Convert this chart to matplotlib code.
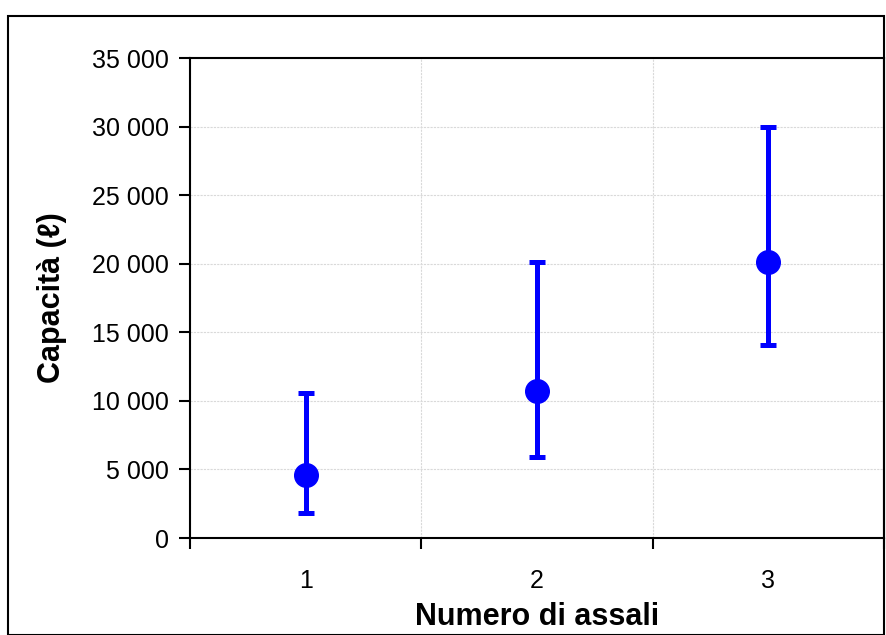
import matplotlib
matplotlib.use("Agg")
import matplotlib.pyplot as plt
from matplotlib.patches import Rectangle
from matplotlib.ticker import FuncFormatter, FixedLocator

plt.rcParams['font.family'] = ['Liberation Sans', 'DejaVu Sans']

categories = [1, 2, 3]
values = [4600, 10700, 20100]
lower = [1800, 5900, 14100]
upper = [10600, 20100, 30000]
x_labels = ["1", "2", "3"]

W, H = 886, 635
fig = plt.figure(figsize=(W/100, H/100), dpi=100)

# outer chart frame
fig.patches.append(Rectangle((8/W, 0), (884-8)/W, 1 - 16/H, transform=fig.transFigure,
                             fill=False, edgecolor='black', linewidth=1.5))

ax = fig.add_axes([190/W, 1 - 538/H, (884-190)/W, (538-58)/H])

yerr = [[v - l for v, l in zip(values, lower)], [u - v for v, u in zip(values, upper)]]
ax.errorbar(categories, values, yerr=yerr, fmt='o', color='#0000FF', ecolor='#0000FF',
            markersize=17, elinewidth=3.6, capsize=5.5, capthick=3.6, zorder=3)

ax.set_xlim(0.5, 3.5)
ax.set_ylim(0, 35000)
ax.set_yticks(range(0, 35001, 5000))
ax.yaxis.set_major_formatter(FuncFormatter(lambda v, p: f"{int(v):,}".replace(",", " ")))

ax.xaxis.set_major_locator(FixedLocator([0.5, 1.5, 2.5, 3.5]))
ax.set_xticklabels([])
ax.xaxis.set_minor_locator(FixedLocator(categories))
ax.set_xticklabels(x_labels, minor=True)
ax.tick_params(axis='x', which='minor', length=0, pad=22, labelsize=18)
ax.tick_params(axis='x', which='major', length=8, width=1.5, direction='out')
ax.tick_params(axis='y', which='major', length=8, width=1.5, direction='out', labelsize=18, pad=7)

ax.grid(True, which='major', color='#D9D9D9', linestyle=(0, (2, 1)), linewidth=0.8)
ax.set_axisbelow(True)
for s in ax.spines.values():
    s.set_linewidth(1.5)
    s.set_color('black')

ax.set_xlabel("Numero di assali", fontsize=22, fontweight='bold', labelpad=7)
ax.set_ylabel("Capacità (ℓ)", fontsize=22, fontweight='bold')
ax.yaxis.set_label_coords((67 - 190) / 694, 0.5)

fig.savefig("out.png", dpi=100)
